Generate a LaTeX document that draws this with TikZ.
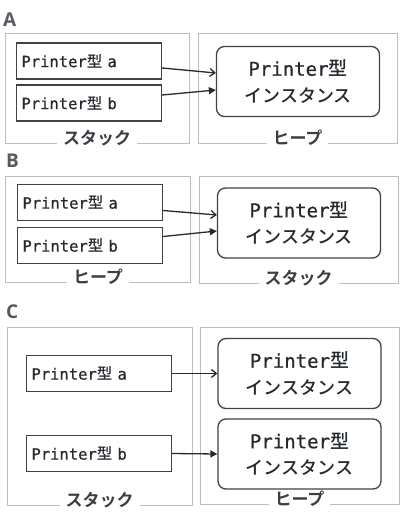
\documentclass[tikz,border=0pt]{standalone}
\usepackage{fontspec}
\usepackage{tikz}
\usetikzlibrary{arrows.meta,positioning,calc}
\setmainfont{Noto Sans CJK JP}
\newfontfamily\jp[UprightFont={* Medium}]{Noto Sans CJK JP}
\newfontfamily\jplbl[UprightFont={* Bold}]{Noto Sans CJK JP}
\newfontfamily\mono[RawFeature={embolden=0.8}]{DejaVu Sans Mono}
\newfontfamily\letterfont{Open Sans}
\definecolor{ink}{HTML}{252A2F}
\definecolor{framegray}{HTML}{BDBDBD}
\definecolor{boxgray}{HTML}{3D4349}
\definecolor{lblink}{HTML}{3A3F44}
\definecolor{lettergray}{HTML}{555B61}
\newcommand{\vname}[1]{Printer{\jp 型} #1}
\newcommand{\iname}{Printer{\jp 型}\\{\jp\fontsize{18}{26.5}\selectfont インスタンス}}

\begin{document}
\begin{tikzpicture}[x=1pt,y=-1pt,
  frame/.style 2 args={draw=framegray,line width=0.8pt,minimum width=#1pt,minimum height=#2pt,inner sep=0pt},
  var/.style={draw=boxgray,line width=1.3pt,text width=135pt,align=left,inner xsep=5pt,minimum height=36pt,
              text=ink,font=\mono\fontsize{15.5}{18}\selectfont},
  inst/.style={draw=boxgray,line width=1.3pt,rounded corners=8pt,minimum width=163pt,minimum height=70pt,
               align=center,text=ink,font=\mono\fontsize{19}{26.5}\selectfont},
  lbl/.style={fill=white,inner xsep=6pt,inner ysep=0pt,anchor=base,yshift=-1pt,text=lblink,
              font=\jplbl\fontsize{17}{17}\selectfont},
  letter/.style={anchor=base west,inner sep=0pt,text=lettergray,font=\letterfont\bfseries\fontsize{19}{19}\selectfont},
  ptropen/.style={-{Straight Barb[length=5pt,width=8pt]},line width=1.3pt,draw=ink},
  ptrfill/.style={-{Triangle[length=7pt,width=7pt]},line width=1.3pt,draw=ink}]
  \useasboundingbox (0,0) rectangle (400,516);
  % A
  \node[letter] (la) at (3,27) {A};
  \node[frame={184}{110}] (sa) at (97,88) {};
  \node[frame={199}{110}] (ha) at (297.5,88) {};
  \node[var] (aa) at (89,61) {\vname{a}};
  \node[var] (ab) at (89,103) {\vname{b}};
  \node[inst] (ia) at (298,81.5) {\iname};
  \node[lbl] at (sa.south) {スタック};
  \node[lbl] at (ha.south) {ヒープ};
  \draw[ptropen] ([yshift=-7pt]aa.east) -- ([yshift=8.5pt]ia.west);
  \draw[ptrfill] ([yshift=8pt]ab.east) -- ([yshift=-8.5pt]ia.west);
  % B
  \node[letter] (lb) at (6,167) {B};
  \node[frame={185}{106}] (sb) at (98,229) {};
  \node[frame={199}{107}] (hb) at (298.5,229.5) {};
  \node[var] (ba) at (90,202.5) {\vname{a}};
  \node[var] (bb) at (90,245.5) {\vname{b}};
  \node[inst] (ib) at (299,223) {\iname};
  \node[lbl] at (sb.south) {ヒープ};
  \node[lbl] at (hb.south) {スタック};
  \draw[ptropen] ([yshift=-8pt]ba.east) -- ([yshift=8pt]ib.west);
  \draw[ptrfill] ([yshift=9pt]bb.east) -- ([yshift=-8pt]ib.west);
  % C
  \node[letter] (lc) at (6,318) {C};
  \node[frame={185}{178}] (sc) at (99.5,416) {};
  \node[frame={199}{177}] (hc) at (299.5,415.5) {};
  \node[var] (ca) at (99,373.5) {\vname{a}};
  \node[var] (cb) at (99,453.5) {\vname{b}};
  \node[inst] (ic1) at (299.5,373.5) {\iname};
  \node[inst] (ic2) at (299.5,454) {\iname};
  \node[lbl] at (sc.south) {スタック};
  \node[lbl] at (hc.south) {ヒープ};
  \draw[ptropen] (ca.east) -- (ic1.west);
  \draw[ptrfill] (cb.east) -- (ic2.west);
\end{tikzpicture}
\end{document}
